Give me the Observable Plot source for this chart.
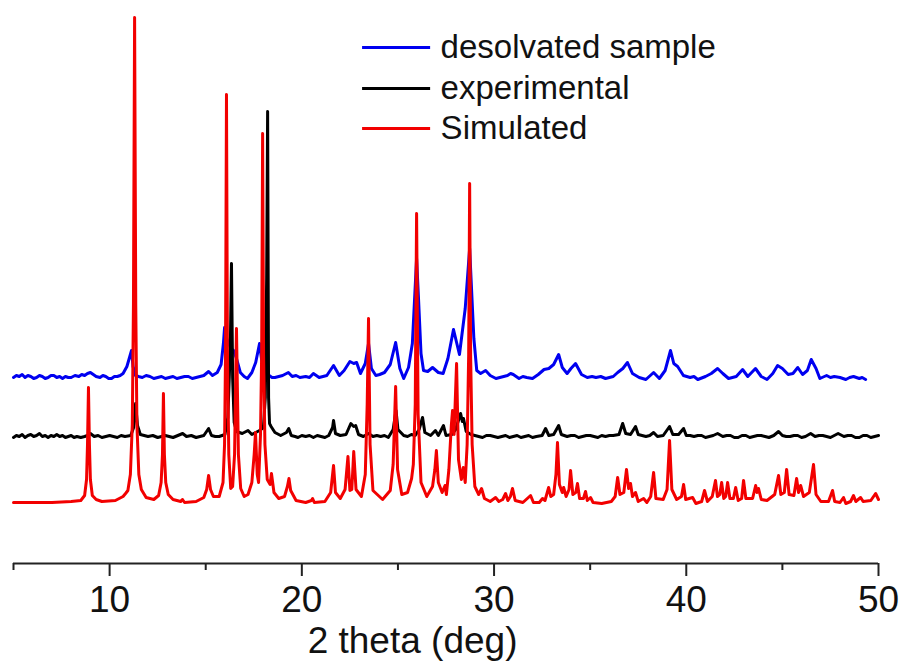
<!DOCTYPE html>
<html><head><meta charset="utf-8">
<script src="https://cdn.jsdelivr.net/npm/d3@7"></script>
<script src="https://cdn.jsdelivr.net/npm/@observablehq/plot@0.6"></script>
<style>body{margin:0;background:#fff}</style></head>
<body><div id="chart"></div>
<script>
// 2-theta (deg), intensity above each trace's own baseline (arbitrary units)
const simulated = [[5.0,2],[6,2],[7,2],[8,3],[8.5,4],[8.7,9],[8.8,25],[8.85,60],[8.9,117],[8.95,60],[9.0,25],[9.1,9],[9.3,5],[9.6,3],[10.3,4],[10.7,8],[10.83,11],[10.95,14],[11.08,30],[11.18,80],[11.24,200],[11.3,487],[11.36,200],[11.42,80],[11.52,30],[11.65,15],[11.9,7],[12.3,5],[12.55,9],[12.68,22],[12.75,50],[12.8,111],[12.85,50],[12.92,22],[13.05,10],[13.3,5],[13.7,3],[13.79,5],[13.9,2],[14.5,3],[14.9,7],[15.05,15],[15.15,29],[15.25,15],[15.4,8],[15.7,8],[15.9,22],[15.98,60],[16.03,150],[16.08,410],[16.13,150],[16.2,50],[16.3,16],[16.4,18],[16.5,50],[16.6,176],[16.7,50],[16.82,16],[17.0,8],[17.2,10],[17.4,22],[17.52,50],[17.59,72],[17.68,30],[17.75,22],[17.85,70],[17.91,150],[17.96,371],[18.01,150],[18.08,60],[18.2,25],[18.35,20],[18.42,31],[18.55,12],[18.8,6],[19.1,8],[19.25,18],[19.33,26],[19.42,14],[19.7,4],[20.2,2],[20.5,4],[20.56,6],[20.65,2],[21.2,3],[21.5,12],[21.65,39],[21.75,12],[22.0,6],[22.25,15],[22.4,48],[22.5,14],[22.6,15],[22.7,53],[22.82,15],[23.1,8],[23.3,30],[23.4,100],[23.47,186],[23.55,60],[23.7,14],[24.2,5],[24.6,14],[24.75,40],[24.88,118],[24.98,35],[25.2,10],[25.5,12],[25.65,22],[25.71,26],[25.8,40],[25.9,100],[25.97,291],[26.05,90],[26.2,22],[26.5,8],[26.8,18],[26.92,35],[27.0,54],[27.1,22],[27.3,12],[27.45,19],[27.52,10],[27.65,35],[27.78,80],[27.84,94],[27.92,70],[28.05,141],[28.15,45],[28.3,25],[28.4,37],[28.5,22],[28.6,60],[28.68,150],[28.73,321],[28.78,150],[28.86,60],[29.0,18],[29.2,10],[29.35,16],[29.5,6],[29.8,3],[30.08,7],[30.25,3],[30.45,5],[30.6,11],[30.72,4],[30.85,8],[30.96,16],[31.1,4],[31.5,2],[31.9,9],[32.05,2],[32.35,2],[32.52,6],[32.65,4],[32.84,17],[32.95,8],[33.1,10],[33.22,30],[33.3,62],[33.4,20],[33.55,12],[33.62,17],[33.75,8],[33.9,15],[33.98,34],[34.1,10],[34.25,12],[34.34,21],[34.45,6],[34.65,6],[34.76,13],[34.85,4],[35.02,7],[35.15,2],[35.6,1],[36.1,3],[36.3,8],[36.43,27],[36.55,10],[36.75,12],[36.89,35],[37.0,16],[37.1,21],[37.2,8],[37.36,12],[37.5,3],[37.78,6],[37.95,2],[38.15,8],[38.3,32],[38.42,6],[38.8,5],[39.0,15],[39.13,64],[39.25,15],[39.5,5],[39.75,8],[39.86,20],[39.97,5],[40.33,7],[40.5,1],[40.8,3],[40.95,14],[41.1,3],[41.35,8],[41.52,24],[41.62,8],[41.74,10],[41.84,22],[41.95,6],[42.05,8],[42.15,22],[42.27,6],[42.45,6],[42.57,17],[42.7,4],[42.88,6],[42.98,24],[43.1,6],[43.45,6],[43.61,19],[43.68,12],[43.76,16],[43.9,5],[44.2,4],[44.6,10],[44.8,29],[44.92,10],[45.1,12],[45.22,35],[45.35,10],[45.6,9],[45.74,26],[45.84,12],[45.95,19],[46.1,8],[46.4,12],[46.62,40],[46.75,10],[47.0,3],[47.4,3],[47.61,14],[47.72,3],[48.0,2],[48.18,7],[48.3,1],[48.55,3],[48.7,9],[48.82,3],[49.07,7],[49.2,3],[49.6,4],[49.85,11],[50.0,5]];

const experimental = [[5.0,0],[5.15,2],[5.3,1],[5.45,3],[5.6,0],[5.75,2],[5.9,3],[6.05,1],[6.2,2],[6.35,4],[6.5,1],[6.65,2],[6.8,0],[6.95,2],[7.1,1],[7.25,3],[7.4,1],[7.55,2],[7.7,0],[7.85,1],[8.0,2],[8.15,0],[8.3,1],[8.5,0],[8.7,1],[8.85,2],[9.0,4],[9.2,1],[9.4,2],[9.6,0],[9.8,1],[10.0,2],[10.2,1],[10.4,0],[10.6,2],[10.8,1],[11.1,2],[11.25,10],[11.35,34],[11.45,12],[11.6,3],[11.8,2],[12.0,1],[12.25,2],[12.5,0],[12.7,1],[12.9,2],[13.1,1],[13.3,0],[13.55,2],[13.8,4],[14.0,1],[14.25,2],[14.5,0],[14.7,1],[14.9,2],[15.15,9],[15.3,2],[15.5,1],[15.7,1],[16.0,3],[16.15,20],[16.28,90],[16.34,174],[16.4,60],[16.48,15],[16.6,6],[16.9,4],[17.2,7],[17.4,3],[17.6,5],[17.8,7],[18.0,10],[18.1,40],[18.17,160],[18.22,326],[18.27,40],[18.32,14],[18.4,11],[18.6,5],[18.9,2],[19.2,5],[19.32,9],[19.45,2],[19.65,1],[19.8,0],[20.0,2],[20.2,1],[20.4,2],[20.6,0],[20.8,2],[21.0,1],[21.2,0],[21.4,2],[21.6,10],[21.65,17],[21.75,4],[22.0,2],[22.3,3],[22.55,14],[22.7,11],[22.8,12],[22.95,3],[23.2,1],[23.47,4],[23.7,1],[23.9,2],[24.1,1],[24.3,2],[24.5,0],[24.75,8],[24.9,27],[25.0,8],[25.3,2],[25.5,1],[25.7,3],[25.9,2],[26.1,8],[26.28,20],[26.4,5],[26.7,2],[26.95,7],[27.1,2],[27.37,12],[27.5,2],[27.8,3],[28.0,8],[28.26,24],[28.35,16],[28.41,19],[28.55,6],[28.8,3],[29.0,2],[29.2,1],[29.4,0],[29.6,2],[29.8,2],[30.0,1],[30.2,0],[30.4,1],[30.6,2],[30.8,0],[31.0,1],[31.2,2],[31.4,0],[31.6,1],[31.8,2],[32.0,0],[32.2,1],[32.5,2],[32.68,9],[32.85,2],[33.1,3],[33.36,12],[33.5,3],[33.8,1],[34.0,2],[34.2,2],[34.4,0],[34.6,1],[34.8,2],[35.0,2],[35.2,1],[35.4,0],[35.6,2],[35.8,1],[36.0,2],[36.2,2],[36.5,3],[36.69,14],[36.85,4],[37.1,3],[37.36,11],[37.5,3],[37.7,2],[37.9,1],[38.1,2],[38.3,5],[38.5,1],[38.8,2],[39.13,11],[39.3,3],[39.6,3],[39.86,9],[40.0,2],[40.2,2],[40.4,1],[40.6,2],[40.8,2],[41.0,0],[41.2,1],[41.4,2],[41.63,4],[41.9,1],[42.1,2],[42.3,2],[42.5,0],[42.7,0],[42.9,2],[43.1,2],[43.3,0],[43.5,1],[43.7,2],[43.9,2],[44.1,1],[44.3,0],[44.55,2],[44.8,6],[45.0,2],[45.2,1],[45.4,1],[45.6,2],[45.8,2],[46.0,0],[46.2,1],[46.47,4],[46.7,1],[46.9,2],[47.1,2],[47.3,1],[47.5,0],[47.7,2],[47.9,4],[48.2,1],[48.4,2],[48.6,2],[48.8,0],[49.0,0],[49.2,2],[49.4,2],[49.6,0],[49.8,1],[50.0,2]];

const desolvated = [[5.0,1],[5.15,3],[5.3,2],[5.45,4],[5.6,1],[5.75,3],[5.9,2],[6.05,0],[6.2,1],[6.35,3],[6.5,2],[6.65,0],[6.8,1],[6.95,3],[7.1,3],[7.25,1],[7.4,2],[7.55,0],[7.7,2],[7.85,1],[8.0,1],[8.2,3],[8.4,2],[8.55,4],[8.7,3],[8.85,5],[9.0,6],[9.15,4],[9.3,2],[9.5,1],[9.65,3],[9.8,2],[9.95,0],[10.1,0],[10.25,2],[10.4,2],[10.55,3],[10.7,5],[10.9,12],[11.05,22],[11.14,28],[11.22,12],[11.35,3],[11.5,2],[11.7,1],[11.9,3],[12.1,2],[12.3,0],[12.5,1],[12.7,2],[12.9,0],[13.1,1],[13.3,2],[13.5,0],[13.7,1],[13.9,2],[14.1,2],[14.3,0],[14.5,1],[14.7,2],[14.9,3],[15.15,7],[15.35,3],[15.6,6],[15.8,14],[15.92,35],[15.98,51],[16.1,40],[16.3,30],[16.45,28],[16.6,20],[16.8,6],[17.0,2],[17.17,0],[17.4,6],[17.6,16],[17.8,35],[17.9,20],[18.05,5],[18.3,3],[18.45,1],[18.6,1],[18.8,2],[19.0,3],[19.3,6],[19.5,2],[19.7,3],[19.9,1],[20.2,2],[20.4,1],[20.6,5],[20.9,1],[21.1,2],[21.3,3],[21.65,13],[21.95,3],[22.2,8],[22.5,17],[22.7,15],[22.85,16],[23.05,5],[23.3,15],[23.47,35],[23.62,10],[23.85,3],[24.05,4],[24.3,6],[24.6,14],[24.88,36],[25.1,10],[25.3,0],[25.55,11],[25.75,35],[25.88,85],[25.97,120],[26.07,80],[26.2,25],[26.33,8],[26.55,7],[26.8,11],[27.1,6],[27.35,5],[27.6,20],[27.89,49],[28.2,24],[28.5,70],[28.73,130],[28.95,40],[29.1,8],[29.3,5],[29.56,8],[29.8,3],[30.1,0],[30.3,1],[30.5,2],[30.7,3],[30.86,5],[31.0,4],[31.3,0],[31.5,2],[31.7,1],[32.0,0],[32.3,4],[32.6,9],[32.85,10],[33.1,14],[33.36,24],[33.55,11],[33.8,5],[34.0,10],[34.24,15],[34.55,4],[34.85,1],[35.1,2],[35.3,1],[35.55,2],[35.8,0],[36.0,1],[36.2,2],[36.43,6],[36.7,10],[36.94,16],[37.2,5],[37.55,1],[37.9,-1],[38.3,6],[38.6,0],[38.9,8],[39.18,28],[39.35,15],[39.55,12],[39.85,3],[40.2,1],[40.4,2],[40.6,-1],[41.0,2],[41.3,5],[41.63,10],[41.9,5],[42.2,0],[42.6,2],[42.93,9],[43.2,2],[43.6,10],[43.9,2],[44.2,-1],[44.5,5],[44.75,13],[45.0,10],[45.3,4],[45.55,5],[45.8,11],[46.05,4],[46.3,8],[46.5,19],[46.75,10],[46.95,0],[47.3,3],[47.5,1],[47.7,2],[48.0,1],[48.3,-1],[48.5,1],[48.7,2],[49.0,0],[49.15,1],[49.33,-1]];

const seriesNames = ["desolvated sample", "experimental", "Simulated"];
const majorTicks = [10, 20, 30, 40, 50];
const minorTicks = [5, 15, 25, 35, 45];
const xLabel = "2 theta (deg)";

// layout / style (not data)
const colors = ["#0000f0", "#000000", "#f20000"];
const offsets = [126, 67, 0];
const legendY = [457, 416, 376];
const font = "'Liberation Sans', Arial, sans-serif";
const axisY0 = -59;

const traces = [desolvated, experimental, simulated];
const rows = (pts, off) => pts.map(([x, v]) => ({x, y: v + off}));

const marks = [
  Plot.ruleY([axisY0], {stroke: "#222", strokeWidth: 2}),
  Plot.ruleX(minorTicks, {x: d => d, y1: axisY0, y2: axisY0 - 7, stroke: "#222", strokeWidth: 2}),
  Plot.ruleX(majorTicks, {x: d => d, y1: axisY0, y2: axisY0 - 13, stroke: "#222", strokeWidth: 2}),
  Plot.text(majorTicks, {x: d => d, y: axisY0, dy: 37, text: d => String(d), fontSize: 37, fill: "#111", lineAnchor: "middle"}),
  Plot.text([xLabel], {x: 25.76, y: axisY0, dy: 78, text: d => d, fontSize: 37, fill: "#111", lineAnchor: "middle"})
];
traces.forEach((t, i) => {
  marks.push(Plot.line(rows(t, offsets[i]), {x: "x", y: "y", stroke: colors[i], strokeWidth: 3, strokeLinejoin: "round"}));
});
seriesNames.forEach((name, i) => {
  marks.push(Plot.ruleY([legendY[i]], {x1: 23.16, x2: 26.7, stroke: colors[i], strokeWidth: 3}));
  marks.push(Plot.text([name], {x: 27.22, y: legendY[i], text: d => d, textAnchor: "start", fontSize: 33, fill: "#111", lineAnchor: "middle"}));
});

const chart = Plot.plot({
  width: 903, height: 664,
  marginLeft: 13, marginRight: 25, marginTop: 10, marginBottom: 101,
  x: {domain: [5, 50], axis: null},
  y: {domain: [-59, 494], axis: null},
  style: {fontFamily: font, background: "#fff", color: "#000"},
  marks
});
document.getElementById("chart").appendChild(chart);
</script>
</body></html>
